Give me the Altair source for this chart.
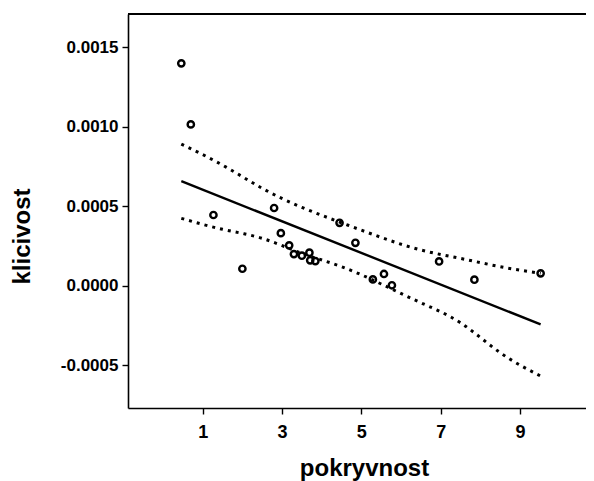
import altair as alt
import pandas as pd

# observed points
pokryvnost = [0.46, 0.70, 1.27, 2.00, 2.80, 2.97, 3.18, 3.30, 3.50, 3.69, 3.71, 3.84,
              4.45, 4.85, 5.29, 5.57, 5.77, 6.96, 7.85, 9.52]
klicivost = [0.001399, 0.001015, 0.000445, 0.000107, 0.000489, 0.000331, 0.000254,
             0.000199, 0.000189, 0.000208, 0.000160, 0.000155, 0.000396, 0.000270,
             0.000040, 0.000074, 0.000003, 0.000153, 0.000038, 0.000078]

# fitted line (read at both ends)
fit_x = [0.46, 9.52]
fit_y = [0.000658, -0.000243]

# confidence band
ci_x = [0.46, 1.5, 2.5, 3.5, 4.5, 5.5, 6.5, 7.5, 8.5, 9.52]
ci_upper = [0.000891, 0.000759, 0.000613, 0.000493, 0.000396, 0.000304, 0.000225,
            0.000172, 0.000120, 0.000078]
ci_lower = [0.000424, 0.000355, 0.000298, 0.000204, 0.000120, 0.000011, -0.000107,
            -0.000233, -0.000421, -0.000568]

x_ticks = [1, 3, 5, 7, 9]
y_ticks = [-0.0005, 0.0, 0.0005, 0.0010, 0.0015]

W, H = 458, 394
FONT = "Liberation Sans"

pts = pd.DataFrame({"x": pokryvnost, "y": klicivost})
fit = pd.DataFrame({"x": fit_x, "y": fit_y})
ci = pd.concat([
    pd.DataFrame({"x": ci_x, "y": ci_upper, "band": "upper"}),
    pd.DataFrame({"x": ci_x, "y": ci_lower, "band": "lower"}),
])

xscale = alt.Scale(domain=[-0.884, 10.664], nice=False, zero=False)
yscale = alt.Scale(domain=[-0.000769, 0.0017094], nice=False, zero=False)

xaxis = alt.Axis(
    values=x_ticks, format="d", grid=False,
    domainColor="black", domainWidth=1.6, tickColor="black", tickWidth=1.4, tickSize=6,
    labelFont=FONT, labelFontSize=18, labelFontWeight="bold", labelColor="black",
    labelPadding=9,
    title="pokryvnost", titleFont=FONT, titleFontSize=24, titleFontWeight="bold",
    titleColor="black", titleX=236, titleY=67, titleAlign="center",
    titleBaseline="alphabetic",
)
yaxis = alt.Axis(
    values=y_ticks, grid=False,
    labelExpr="datum.value < 0 ? '-' + format(-datum.value, '.4f') : format(datum.value, '.4f')",
    domainColor="black", domainWidth=1.6, tickColor="black", tickWidth=1.4, tickSize=6,
    labelFont=FONT, labelFontSize=17, labelFontWeight="bold", labelColor="black",
    labelPadding=4,
    title="klicivost", titleFont=FONT, titleFontSize=24, titleFontWeight="bold",
    titleColor="black", titleX=-106, titleY=222, titleAlign="center",
    titleBaseline="middle", titleAngle=-90,
)

points = alt.Chart(pts).mark_point(
    shape="circle", filled=False, color="black", size=40, strokeWidth=2.4, opacity=1
).encode(
    x=alt.X("x:Q", scale=xscale, axis=xaxis),
    y=alt.Y("y:Q", scale=yscale, axis=yaxis),
)

line = alt.Chart(fit).mark_line(color="black", strokeWidth=2.4).encode(
    x=alt.X("x:Q", scale=xscale), y=alt.Y("y:Q", scale=yscale)
)

band = alt.Chart(ci).mark_line(
    color="black", strokeWidth=3, strokeDash=[3, 5], interpolate="natural"
).encode(
    x=alt.X("x:Q", scale=xscale), y=alt.Y("y:Q", scale=yscale), detail="band:N"
)

top_border = alt.Chart(pts).mark_rule(color="black", strokeWidth=1.6).encode(
    x=alt.value(0), x2=alt.value(W), y=alt.value(0)
)

chart = alt.layer(band, line, points, top_border).properties(
    width=W, height=H,
    autosize=alt.AutoSizeParams(type="none"),
    padding={"left": 120, "top": 6, "right": 0, "bottom": 75},
    background="white",
).configure_view(stroke=None)

chart.save("out.html", embed_options={"renderer": "svg", "actions": False})
